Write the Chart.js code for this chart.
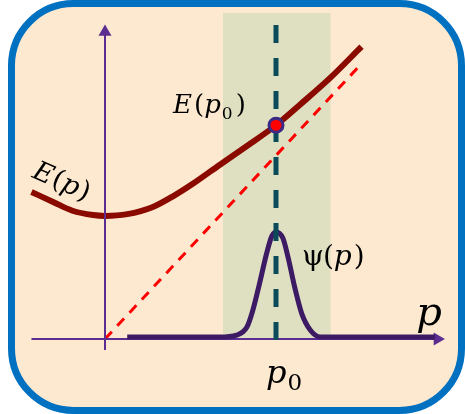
<!DOCTYPE html>
<html>
<head>
<meta charset="utf-8">
<script src="https://cdn.jsdelivr.net/npm/chart.js@4"></script>
<style>
  html, body { margin: 0; padding: 0; background: #fff; }
  canvas { display: block; }
</style>
</head>
<body>
<canvas id="chart" width="465" height="414"></canvas>
<script>
// units: p0 = 1
const energyP = [-0.43, -0.30, -0.19, -0.07, 0, 0.13, 0.28, 0.40, 0.52, 0.67, 0.83, 1.0, 1.14, 1.32, 1.50];
const energyE = [0.86, 0.80, 0.75, 0.725, 0.72, 0.73, 0.772, 0.836, 0.912, 1.018, 1.129, 1.25, 1.37, 1.53, 1.71];

const psiP = [0.13, 0.67, 0.77, 0.83, 0.865, 0.905, 0.945, 0.975, 1.0, 1.04, 1.07, 1.11, 1.15, 1.2, 1.26, 1.33, 1.93];
const psiV = [0.012, 0.012, 0.023, 0.07, 0.17, 0.33, 0.50, 0.60, 0.626, 0.59, 0.48, 0.30, 0.15, 0.053, 0.012, 0.012, 0.012];

const lineP = [0, 1.50];
const lineE = [0, 1.61];

const p0 = 1;
const e0 = 1.25;
const bandP = [0.69, 1.32];
const bandTop = 1.906;

const xAxisP = [-0.43, 1.944];
const yAxisE = [-0.064, 1.795];
const p0LineE = [1.836, -0.023];

const pts = (xs, ys) => xs.map((x, i) => ({ x, y: ys[i] }));

const serif = '"DejaVu Serif", "Liberation Serif", serif';
const it = s => `italic ${s}px ${serif}`;
const up = s => `${s}px ${serif}`;

function drawRuns(ctx, x, y, runs) {
  let cx = x;
  runs.forEach(r => {
    ctx.font = r.f;
    cx += r.dx || 0;
    ctx.fillText(r.t, cx, y + (r.dy || 0));
    cx += ctx.measureText(r.t).width;
  });
}

const frame = {
  id: "frame",
  beforeDraw(chart) {
    const ctx = chart.ctx;
    ctx.save();
    ctx.fillStyle = "#ffffff";
    ctx.fillRect(0, 0, chart.width, chart.height);
    ctx.beginPath();
    ctx.roundRect(11.5, 3.5, 450, 407, 62);
    ctx.fillStyle = "#FDE9D0";
    ctx.fill();
    ctx.lineWidth = 7;
    ctx.strokeStyle = "#0070C0";
    ctx.stroke();
    ctx.restore();
  },
  afterDatasetsDraw(chart) {
    const ctx = chart.ctx;
    const x = v => chart.scales.x.getPixelForValue(v);
    const y = v => chart.scales.y.getPixelForValue(v);
    ctx.save();
    ctx.fillStyle = "#000000";
    ctx.textBaseline = "alphabetic";

    drawRuns(ctx, x(0.398), y(1.322), [
      { t: "E", f: it(26) },
      { t: "(", f: up(26), dx: 2 },
      { t: "p", f: it(26) },
      { t: "0", f: up(17), dx: 1, dy: 6 },
      { t: ")", f: up(26), dx: 3 },
    ]);

    drawRuns(ctx, x(1.152), y(0.433), [
      { t: "ψ", f: up(28) },
      { t: "(", f: up(28), dx: -1 },
      { t: "p", f: it(28) },
      { t: ")", f: up(28), dx: 2 },
    ]);

    drawRuns(ctx, x(0.942), y(-0.257), [
      { t: "p", f: it(32) },
      { t: "0", f: up(23), dx: 1, dy: 7 },
    ]);

    drawRuns(ctx, x(1.82), y(0.082), [{ t: "p", f: it(40) }]);

    ctx.translate(x(-0.433), y(0.948));
    ctx.rotate(24 * Math.PI / 180);
    drawRuns(ctx, 0, 0, [
      { t: "E", f: it(27) },
      { t: "(", f: up(27), dx: 1 },
      { t: "p", f: it(27) },
      { t: ")", f: up(27), dx: 1 },
    ]);
    ctx.restore();
  },
};

const arrowAtEnd = n => c => (c.dataIndex === n - 1 ? 7.5 : 0);

const config = {
  type: "scatter",
  data: {
    datasets: [
      {
        label: "E(p0)",
        data: [{ x: p0, y: e0 }],
        pointRadius: 7,
        pointBackgroundColor: "#FF0000",
        pointBorderColor: "#3B2A85",
        pointBorderWidth: 3,
        order: 0,
      },
      {
        label: "p0",
        data: pts([p0, p0], p0LineE),
        showLine: true,
        borderColor: "#0B4A58",
        borderWidth: 5,
        borderDash: [18, 15],
        pointRadius: 0,
        order: 1,
      },
      {
        label: "y axis",
        data: pts([0, 0], yAxisE),
        showLine: true,
        borderColor: "#5B2D90",
        borderWidth: 2,
        pointRadius: arrowAtEnd(2),
        pointStyle: "triangle",
        pointBackgroundColor: "#5B2D90",
        pointBorderWidth: 0,
        order: 2,
      },
      {
        label: "E(p)",
        data: pts(energyP, energyE),
        showLine: true,
        borderColor: "#8B0A00",
        borderWidth: 6,
        cubicInterpolationMode: "monotone",
        pointRadius: 0,
        order: 3,
      },
      {
        label: "psi(p)",
        data: pts(psiP, psiV),
        showLine: true,
        borderColor: "#3C1A64",
        borderWidth: 5,
        cubicInterpolationMode: "monotone",
        pointRadius: 0,
        order: 4,
      },
      {
        label: "x axis",
        data: pts(xAxisP, [0, 0]),
        showLine: true,
        borderColor: "#5B2D90",
        borderWidth: 2,
        pointRadius: arrowAtEnd(2),
        pointStyle: "triangle",
        pointRotation: 90,
        pointBackgroundColor: "#5B2D90",
        pointBorderWidth: 0,
        order: 5,
      },
      {
        label: "slope",
        data: pts(lineP, lineE),
        showLine: true,
        borderColor: "#FF0000",
        borderWidth: 3,
        borderDash: [10, 8],
        pointRadius: 0,
        order: 6,
      },
      {
        label: "band",
        data: pts(bandP, [bandTop, bandTop]),
        showLine: true,
        fill: "origin",
        backgroundColor: "#DFE0C1",
        borderWidth: 0,
        pointRadius: 0,
        order: 10,
      },
    ],
  },
  options: {
    responsive: false,
    animation: false,
    events: [],
    layout: { padding: 0, autoPadding: false },
    plugins: {
      legend: { display: false },
      tooltip: { enabled: false },
    },
    scales: {
      x: { type: "linear", display: false, min: -105 / 171, max: 360 / 171 },
      y: { type: "linear", display: false, min: -75 / 171, max: 339 / 171 },
    },
  },
  plugins: [frame],
};

new Chart(document.getElementById("chart"), config);
</script>
</body>
</html>
